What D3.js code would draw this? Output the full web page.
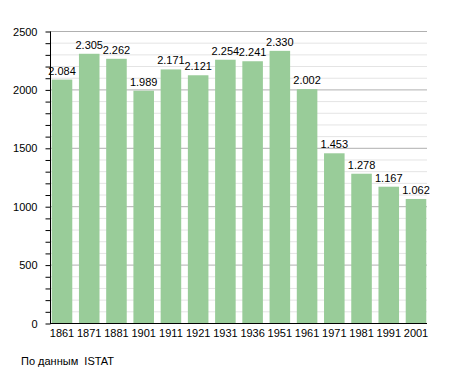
<!DOCTYPE html>
<html><head><meta charset="utf-8">
<script src="https://cdn.jsdelivr.net/npm/d3@7"></script>
<style>body{margin:0;background:#fff}svg{display:block}text{font-family:"Liberation Sans",Arial,sans-serif}</style>
</head><body><svg width="455" height="373"></svg>
<script>
const years = ["1861","1871","1881","1901","1911","1921","1931","1936","1951","1961","1971","1981","1991","2001"];
const population = [2084,2305,2262,1989,2171,2121,2254,2241,2330,2002,1453,1278,1167,1062];
const yTicks = [0,500,1000,1500,2000,2500];
const sourceText = "По данным  ISTAT";

const svg = d3.select("svg");
const x0 = 50, x1 = 427, yTop = 31, yBot = 323;
const x = d3.scaleBand().domain(years).range([49, 429]).paddingInner(0.245).paddingOuter(0.1);
const y = d3.scaleLinear().domain([0,2500]).range([yBot, yTop]);

// minor grid
const minor = d3.range(100, 2501, 100).filter(v => v % 500 !== 0);
svg.append("g").selectAll("line").data(minor).join("line")
  .attr("x1", x0).attr("x2", x1).attr("y1", d=>y(d)+0.5).attr("y2", d=>y(d)+0.5)
  .attr("stroke", "#e4e4e4").attr("stroke-width", 1);
svg.append("g").selectAll("line").data(yTicks.filter(v=>v>0)).join("line")
  .attr("x1", x0).attr("x2", x1).attr("y1", d=>y(d)+0.5).attr("y2", d=>y(d)+0.5)
  .attr("stroke", "#b0b0b0").attr("stroke-width", 1);

// bars
svg.append("g").selectAll("rect").data(years).join("rect")
  .attr("x", d=>x(d)).attr("width", x.bandwidth())
  .attr("y", (d,i)=>y(population[i])).attr("height", (d,i)=>yBot - y(population[i]))
  .attr("fill", "#99cc99");

// value labels
const fmt = v => d3.format(",")(v).replace(",", ".");
svg.append("g").selectAll("text").data(years).join("text")
  .attr("x", d=>x(d)+x.bandwidth()/2).attr("y", (d,i)=>y(population[i])-5)
  .attr("text-anchor","middle").attr("font-size", 11).attr("fill","#000")
  .text((d,i)=>fmt(population[i]));

// y axis
const yAxis = d3.axisLeft(y).tickValues(d3.range(0,2501,100)).tickSize(5)
  .tickFormat(d => d % 500 === 0 ? d : "");
const ga = svg.append("g").attr("transform", `translate(${x0+0.5},0.5)`).call(yAxis);
ga.select(".domain").attr("stroke","#000").attr("d", `M0,${yTop}V${yBot}`);
ga.selectAll(".tick line").attr("stroke","#000");
ga.selectAll(".tick text").attr("font-size", 11).attr("x", -13).attr("fill","#000")
  .attr("font-family", '"Liberation Sans",Arial,sans-serif');

// x axis
const xAxis = d3.axisBottom(x).tickSize(0).tickPadding(6);
const gx = svg.append("g").attr("transform", `translate(0,${yBot+0.5})`).call(xAxis);
gx.select(".domain").attr("stroke","#000").attr("d", `M${x0},0H${x1}`);
gx.selectAll(".tick text").attr("font-size", 11).attr("fill","#000")
  .attr("font-family", '"Liberation Sans",Arial,sans-serif');

svg.append("text").attr("x", 21).attr("y", 365).attr("font-size", 11).attr("fill","#000")
  .style("white-space", "pre").text(sourceText);
</script></body></html>
